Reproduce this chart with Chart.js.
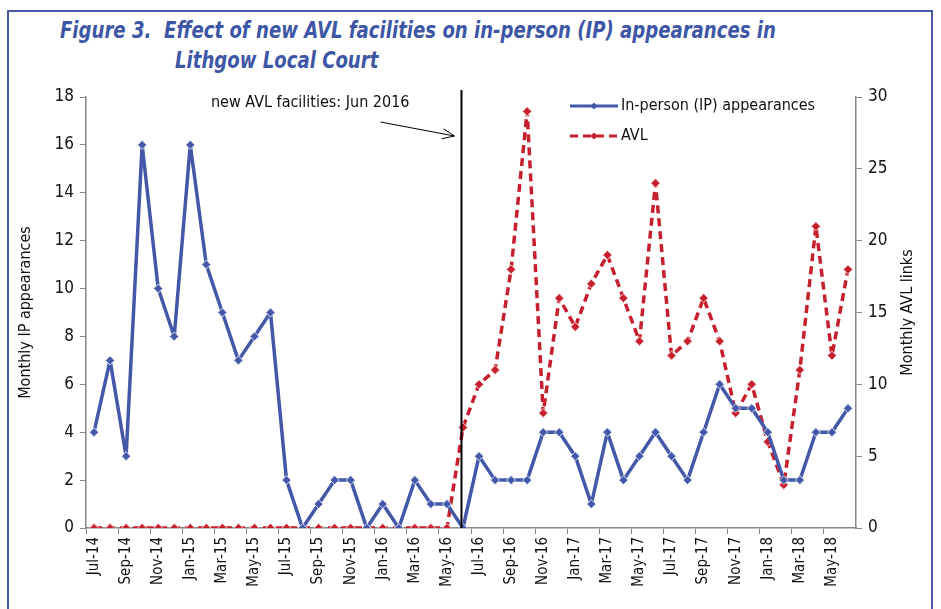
<!DOCTYPE html>
<html>
<head>
<meta charset="utf-8">
<script src="https://cdn.jsdelivr.net/npm/chart.js@4"></script>
<style>
  html, body { margin: 0; padding: 0; background: #fff; }
  #wrap { position: relative; width: 941px; height: 609px; overflow: hidden; }
  #frame { position: absolute; left: 7px; top: 10px; width: 926px; height: 640px; border: 2px solid #4a5aa8; box-sizing: border-box; }
  .title { position: absolute; font-family: 'Liberation Sans Narrow', 'DejaVu Sans Condensed', sans-serif; font-weight: bold; font-style: italic; font-size: 23px; color: #3e56a6; white-space: nowrap; transform: scaleX(0.875); transform-origin: left top; }
  canvas { position: absolute; left: 0; top: 0; }
</style>
</head>
<body>
<div id="wrap">
  <div id="frame"></div>
  <div class="title" style="left:60px; top:17px;">Figure 3.&nbsp; Effect of new AVL facilities on in-person (IP) appearances in</div>
  <div class="title" style="left:175px; top:47px;">Lithgow Local Court</div>
  <canvas id="chart" width="941" height="609"></canvas>
</div>
<script>
const FONT = "'Liberation Sans Narrow', 'DejaVu Sans Condensed', sans-serif";

// Jul-14 .. Jun-18
const months = [
  'Jul-14','Aug-14','Sep-14','Oct-14','Nov-14','Dec-14',
  'Jan-15','Feb-15','Mar-15','Apr-15','May-15','Jun-15','Jul-15','Aug-15','Sep-15','Oct-15','Nov-15','Dec-15',
  'Jan-16','Feb-16','Mar-16','Apr-16','May-16','Jun-16','Jul-16','Aug-16','Sep-16','Oct-16','Nov-16','Dec-16',
  'Jan-17','Feb-17','Mar-17','Apr-17','May-17','Jun-17','Jul-17','Aug-17','Sep-17','Oct-17','Nov-17','Dec-17',
  'Jan-18','Feb-18','Mar-18','Apr-18','May-18','Jun-18'
];

const ipAppearances = [
  4, 7, 3, 16, 10, 8,
  16, 11, 9, 7, 8, 9, 2, 0, 1, 2, 2, 0,
  1, 0, 2, 1, 1, 0, 3, 2, 2, 2, 4, 4,
  3, 1, 4, 2, 3, 4, 3, 2, 4, 6, 5, 5,
  4, 2, 2, 4, 4, 5
];

const avlLinks = [
  0, 0, 0, 0, 0, 0,
  0, 0, 0, 0, 0, 0, 0, 0, 0, 0, 0, 0,
  0, 0, 0, 0, 0, 7, 10, 11, 18, 29, 8, 16,
  14, 17, 19, 16, 13, 24, 12, 13, 16, 13, 8, 10,
  6, 3, 11, 21, 12, 18
];

const changeMonth = 'Jun-16';
const annotationText = 'new AVL facilities: Jun 2016';
const rightTitle = 'Monthly AVL links';

const blue = '#4457a8';
const red = '#c61f2d';

// vertical line, arrow note, right axis title and legend
const extras = {
  id: 'extras',
  afterDatasetsDraw(chart) {
    const { ctx, chartArea, scales } = chart;
    const x = scales.x.getPixelForValue(months.indexOf(changeMonth)) - 1.5;
    ctx.save();
    ctx.strokeStyle = '#000';
    ctx.lineWidth = 2;
    ctx.beginPath();
    ctx.moveTo(x, chartArea.top - 7);
    ctx.lineTo(x, chartArea.bottom);
    ctx.stroke();

    // arrow
    const ex = x - 7, ey = chartArea.top + 39;
    const sx = x - 81, sy = chartArea.top + 25;
    ctx.lineWidth = 1;
    ctx.beginPath();
    ctx.moveTo(sx, sy);
    ctx.lineTo(ex, ey);
    const a = Math.atan2(ey - sy, ex - sx);
    ctx.moveTo(ex - 13 * Math.cos(a - 0.4), ey - 13 * Math.sin(a - 0.4));
    ctx.lineTo(ex, ey);
    ctx.lineTo(ex - 13 * Math.cos(a + 0.4), ey - 13 * Math.sin(a + 0.4));
    ctx.stroke();

    ctx.fillStyle = '#111';
    ctx.font = '16px ' + FONT;
    ctx.textAlign = 'right';
    ctx.textBaseline = 'middle';
    ctx.fillText(annotationText, x - 52, chartArea.top + 6);

    // right axis title, reading bottom to top
    ctx.save();
    ctx.translate(scales.y2.right - 11, (chartArea.top + chartArea.bottom) / 2);
    ctx.rotate(-Math.PI / 2);
    ctx.textAlign = 'center';
    ctx.font = '16px ' + FONT;
    ctx.fillText(rightTitle, 0, 0);
    ctx.restore();

    // legend
    const lx = chartArea.left + 484;
    const rows = [
      { ds: chart.data.datasets[0], y: chartArea.top + 9 },
      { ds: chart.data.datasets[1], y: chartArea.top + 39 }
    ];
    rows.forEach(r => {
      ctx.strokeStyle = r.ds.borderColor;
      ctx.lineWidth = 3;
      ctx.setLineDash(r.ds.borderDash || []);
      ctx.beginPath();
      ctx.moveTo(lx, r.y);
      ctx.lineTo(lx + 48, r.y);
      ctx.stroke();
      ctx.setLineDash([]);
      ctx.fillStyle = r.ds.pointBackgroundColor;
      ctx.beginPath();
      ctx.moveTo(lx + 24, r.y - 3.5);
      ctx.lineTo(lx + 27.5, r.y);
      ctx.lineTo(lx + 24, r.y + 3.5);
      ctx.lineTo(lx + 20.5, r.y);
      ctx.closePath();
      ctx.fill();
      ctx.fillStyle = '#111';
      ctx.textAlign = 'left';
      ctx.font = '16px ' + FONT;
      ctx.fillText(r.ds.label, lx + 51, r.y);
    });
    ctx.restore();
  }
};

new Chart(document.getElementById('chart'), {
  type: 'line',
  data: {
    labels: months,
    datasets: [
      {
        label: 'In-person (IP) appearances',
        data: ipAppearances,
        yAxisID: 'y',
        borderColor: blue,
        backgroundColor: blue,
        borderWidth: 3.5,
        borderJoinStyle: 'round',
        pointStyle: 'rectRot',
        pointRadius: 4.5,
        pointBackgroundColor: blue,
        pointBorderColor: '#d8ddf0',
        pointBorderWidth: 1,
        tension: 0
      },
      {
        label: 'AVL',
        data: avlLinks,
        yAxisID: 'y2',
        borderColor: red,
        backgroundColor: red,
        borderWidth: 3.5,
        borderDash: [8, 5],
        borderJoinStyle: 'round',
        pointStyle: 'rectRot',
        pointRadius: 4.5,
        pointBackgroundColor: red,
        pointBorderColor: '#f5c6c6',
        pointBorderWidth: 1,
        tension: 0
      }
    ]
  },
  options: {
    responsive: false,
    animation: false,
    layout: { padding: { top: 97, left: 16, right: 22, bottom: 0 } },
    plugins: { legend: { display: false }, tooltip: { enabled: false } },
    scales: {
      x: {
        offset: true,
        grid: {
          offset: true,
          drawOnChartArea: false,
          tickLength: 6,
          tickColor: c => (c.index % 2 === 0 ? '#888' : 'rgba(0,0,0,0)')
        },
        border: { color: '#888', width: 1.5 },
        ticks: {
          autoSkip: false,
          minRotation: 90,
          maxRotation: 90,
          color: '#111',
          font: { family: FONT, size: 15 },
          callback: (v, i) => (i % 2 === 0 ? months[i] : '')
        },
        afterFit: s => { s.height = 81; }
      },
      y: {
        position: 'left',
        min: 0, max: 18,
        grid: { drawOnChartArea: false, tickLength: 6, color: '#888' },
        border: { color: '#888', width: 1.5 },
        ticks: { stepSize: 2, color: '#111', padding: 6, font: { family: FONT, size: 17 } },
        title: { display: true, text: 'Monthly IP appearances', color: '#111', font: { family: FONT, size: 16 }, padding: 0 },
        afterFit: s => { s.width = 70; }
      },
      y2: {
        position: 'right',
        min: 0, max: 30,
        grid: { drawOnChartArea: false, tickLength: 6, color: '#888' },
        border: { color: '#888', width: 1.5 },
        ticks: { stepSize: 5, color: '#111', padding: 6, font: { family: FONT, size: 17 } },
        afterFit: s => { s.width = 63; }
      }
    }
  },
  plugins: [extras]
});
</script>
</body>
</html>
